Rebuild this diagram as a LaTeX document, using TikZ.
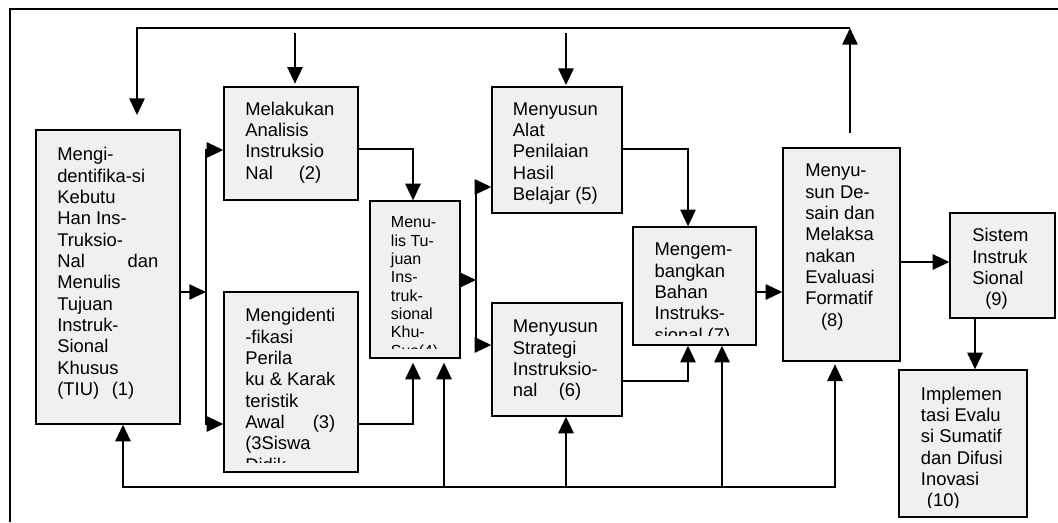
\documentclass[tikz,border=0pt]{standalone}
\usepackage{fontspec}
\setmainfont{Liberation Sans}
\usetikzlibrary{arrows.meta,fit}
\definecolor{boxfill}{RGB}{240,240,240}
\tikzset{
  stepbox/.style={draw=black, fill=boxfill, line width=1pt, inner sep=0pt},
  txt/.style={inner sep=0pt, font=\fontsize{13.8}{16}\selectfont},
  smalltxt/.style={inner sep=0pt, font=\fontsize{12}{13.75}\selectfont},
  wire/.style={line width=1.3pt, line cap=rect},
  arr/.style={line width=1.3pt, -{Triangle[length=12.5pt,width=11.5pt]}},
}
% label of a box, clipped to the inside of the box
\newcommand\boxlabel[5]{%
  \begin{scope}
    \clip ([xshift=1pt,yshift=-1pt]#1.north west) rectangle ([xshift=-1pt,yshift=7.5pt]#1.south east);
    \node[#4, anchor=base west] (#2) at #3 {\parbox[t]{120pt}{\raggedright #5}};
  \end{scope}}
\begin{document}
\begin{tikzpicture}[x=0.75pt,y=-0.75pt]
\useasboundingbox (0,0) rectangle (1058,522);
% outer frame
\draw[line width=1pt] (10,522) -- (10,9) -- (1058,9);

% steps
\node[stepbox, fit={(36,130)(180,424)}] (b1) {};
\node[stepbox, fit={(224,87)(358,200)}] (b2) {};
\node[stepbox, fit={(224,292)(358,472)}] (b3) {};
\node[stepbox, fit={(370,201)(460,358)}] (b4) {};
\node[stepbox, fit={(492,87)(622,213)}] (b5) {};
\node[stepbox, fit={(492,303)(622,416)}] (b6) {};
\node[stepbox, fit={(633,227)(756,345)}] (b7) {};
\node[stepbox, fit={(783,148)(900,361)}] (b8) {};
\node[stepbox, fit={(950,213)(1055,318)}] (b9) {};
\node[stepbox, fit={(899,370)(1027,517)}] (b10) {};

\boxlabel{b1}{t1}{(57,160.7)}{txt}{Mengi-\\dentifika-si\\Kebutu\\Han Ins-\\Truksio-\\\makebox[75.75pt]{Nal\hfill dan}\\Menulis\\Tujuan\\Instruk-\\Sional\\Khusus\\(TIU)\hspace{9.5pt}(1)}
\boxlabel{b2}{t2}{(245,115)}{txt}{Melakukan\\Analisis\\Instruksio\\Nal\hspace{19.5pt}(2)}
\boxlabel{b3}{t3}{(245,321.7)}{txt}{Mengidenti\\-fikasi\\Perila\\ku \& Karak\\teristik\\Awal\hspace{21pt}(3)\\(3Siswa\\Didik}
\boxlabel{b4}{t4}{(390.7,227.7)}{smalltxt}{Menu-\\lis Tu-\\juan\\Ins-\\truk-\\sional\\Khu-\\Sus(4)}
\boxlabel{b5}{t5}{(512.7,115)}{txt}{Menyusun\\Alat\\Penilaian\\Hasil\\Belajar (5)}
\boxlabel{b6}{t6}{(512.7,332.7)}{txt}{Menyusun\\Strategi\\Instruksio-\\nal\hspace{16pt}(6)}
\boxlabel{b7}{t7}{(654.3,255.7)}{txt}{Mengem-\\bangkan\\Bahan\\Instruks-\\sional (7)}
\boxlabel{b8}{t8}{(805,176.7)}{txt}{Menyu-\\sun De-\\sain dan\\Melaksa\\nakan\\Evaluasi\\Formatif\\\hspace*{11.8pt}(8)}
\boxlabel{b9}{t9}{(972,241.7)}{txt}{Sistem\\Instruk\\Sional\\\hspace*{9.75pt}(9)}
\boxlabel{b10}{t10}{(920.7,400)}{txt}{Implemen\\tasi Evalu\\si Sumatif\\dan Difusi\\Inovasi\\\hspace*{4.5pt}(10)}

% feedback line across the top
\coordinate (u8) at (850,133);
\coordinate (tr) at (850,28);
\coordinate (tl) at (137,28);
\coordinate (d1) at (137,115);
\draw[arr] (u8) -- (tr);
\draw[arr] (tr) -- (tl) -- (d1);
\coordinate (d2) at (295,33);
\draw[arr, shorten >=2pt] (d2) -- (d2 |- b2.north);
\coordinate (d5) at (566,33);
\draw[arr, shorten >=1pt] (d5) -- (d5 |- b5.north);

% step 1 to steps 2 and 3
\coordinate (s1) at (206,292);
\coordinate (s1t) at (206,150);
\coordinate (s1b) at (206,424);
\draw[arr] (b1.east |- s1) -- (s1);
\draw[wire] (s1t) -- (s1b);
\draw[arr] (s1t) -- (s1t -| b2.west);
\draw[arr] (s1b) -- (s1b -| b3.west);

% steps 2 and 3 to step 4
\coordinate (c24) at (413,149);
\draw[arr] (b2.east |- c24) -- (c24) -- (c24 |- b4.north);
\coordinate (c34) at (413,424);
\draw[arr, shorten >=3pt] (b3.east |- c34) -- (c34) -- (c34 |- b4.south);

% step 4 to steps 5 and 6
\coordinate (s4) at (476,280);
\coordinate (s4t) at (476,187);
\coordinate (s4b) at (476,345);
\draw[arr] (b4.east |- s4) -- (s4);
\draw[wire] (s4t) -- (s4b);
\draw[arr] (s4t) -- (s4t -| b5.west);
\draw[arr] (s4b) -- (s4b -| b6.west);

% steps 5 and 6 to step 7
\coordinate (c57) at (688,149);
\draw[arr] (b5.east |- c57) -- (c57) -- (c57 |- b7.north);
\coordinate (c67) at (688,381);
\draw[arr] (b6.east |- c67) -- (c67) -- (c67 |- b7.south);

% steps 7, 8, 9, 10
\coordinate (c78) at (770,292);
\draw[arr] (b7.east |- c78) -- (b8.west |- c78);
\coordinate (c89) at (920,262);
\draw[arr] (b8.east |- c89) -- (b9.west |- c89);
\coordinate (c910) at (975,340);
\draw[arr] (b9.south -| c910) -- (b10.north -| c910);

% feedback line along the bottom
\coordinate (f1) at (123,487);
\coordinate (f4) at (444,487);
\coordinate (f6) at (566,487);
\coordinate (f7) at (722,487);
\coordinate (f8) at (835,487);
\draw[wire] (f1) -- (f8);
\draw[arr] (f1) -- (f1 |- b1.south);
\draw[arr, shorten >=3pt] (f4) -- (f4 |- b4.south);
\draw[arr] (f6) -- (f6 |- b6.south);
\draw[arr] (f7) -- (f7 |- b7.south);
\draw[arr, shorten >=2pt] (f8) -- (f8 |- b8.south);
\end{tikzpicture}
\end{document}
